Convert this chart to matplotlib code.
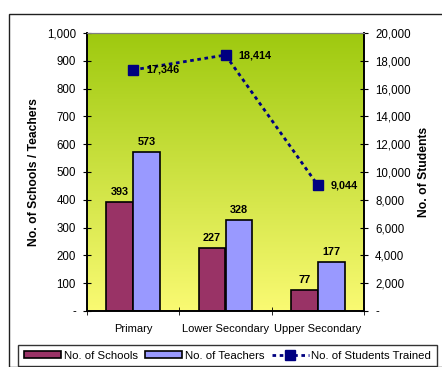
import numpy as np
import matplotlib
matplotlib.use("Agg")
import matplotlib.pyplot as plt
from matplotlib.patches import Rectangle
from matplotlib.ticker import FuncFormatter

categories = ["Primary", "Lower Secondary", "Upper Secondary"]
schools = [393, 227, 77]
teachers = [573, 328, 177]
students = [17346, 18414, 9044]

plt.rcParams['font.family'] = ['Liberation Sans', 'DejaVu Sans']

fig = plt.figure(figsize=(4.42, 3.67), dpi=100)
# outer frame
fig.patches.append(Rectangle((9/442, 0), 1.0, 1 - 14/367, transform=fig.transFigure,
                             fill=False, edgecolor='#202020', linewidth=1.0))

ax = fig.add_axes([87/442, 1 - 311/367, 277/442, 278/367])
ax2 = ax.twinx()

# gradient background
top = np.array([0.62, 0.79, 0.06])
bot = np.array([0.98, 0.98, 0.45])
t = np.linspace(0, 1, 256)[:, None]
grad = (top[None, :] * (1 - t) + bot[None, :] * t)[:, None, :]
ax.imshow(grad, extent=[0, 1, 0, 1], transform=ax.transAxes, aspect='auto', zorder=0)

x = np.arange(len(categories))
w = 0.29
b1 = ax.bar(x - w/2, schools, w, color='#993366', edgecolor='black', linewidth=1.2, zorder=2,
            label='No. of Schools')
b2 = ax.bar(x + w/2, teachers, w, color='#9999ff', edgecolor='black', linewidth=1.2, zorder=2,
            label='No. of Teachers')
for xi, v in zip(x, schools):
    ax.text(xi - w/2, v + 18, str(v), ha='center', va='bottom', fontsize=7.8, fontweight='bold')
for xi, v in zip(x, teachers):
    ax.text(xi + w/2, v + 18, str(v), ha='center', va='bottom', fontsize=7.8, fontweight='bold')

ax.set_xlim(-0.5, 2.5)
ax.set_ylim(0, 1000)
ax.set_yticks(np.arange(0, 1001, 100))
fmt = FuncFormatter(lambda v, p: '-' if v == 0 else f'{int(v):,}')
ax.yaxis.set_major_formatter(fmt)
ax.set_xticks(x)
ax.set_xticklabels(categories)
ax.set_xticks([-0.5, 0.5, 1.5, 2.5], minor=True)
ax.tick_params(axis='x', which='major', length=0, pad=9, labelsize=8)
ax.tick_params(axis='x', which='minor', direction='inout', length=6)
ax.tick_params(axis='y', direction='inout', length=6, labelsize=8.3, pad=5)
ax.set_ylabel('No. of Schools / Teachers', fontsize=8.7, fontweight='bold', labelpad=5)

ln, = ax2.plot(x, students, color='#000080', linestyle=(0, (1.3, 1.3)), linewidth=2,
               marker='s', markersize=7.5, label='No. of Students Trained', zorder=3)
for xi, v in zip(x, students):
    ax2.text(xi + 0.14, v, f'{v:,}', ha='left', va='center', fontsize=7.8, fontweight='bold')
ax2.set_ylim(0, 20000)
ax2.set_yticks(np.arange(0, 20001, 2000))
ax2.yaxis.set_major_formatter(fmt)
ax2.tick_params(axis='y', direction='inout', length=6, labelsize=8.3, pad=5)
ax2.set_ylabel('No. of Students', fontsize=8.7, fontweight='bold', labelpad=5)

for a in (ax, ax2):
    a.spines['top'].set_color('#808080')
    a.spines['left'].set_linewidth(1.2)
    a.spines['right'].set_linewidth(1.2)
    a.spines['bottom'].set_linewidth(1.2)

leg = fig.legend(handles=[b1, b2, ln], loc='upper left',
                 bbox_to_anchor=(18/442, 0, 419/442, 22/367),
                 mode='expand', ncol=3, fontsize=8.2, frameon=True, fancybox=False,
                 edgecolor='black', handlelength=3.3, handleheight=0.6, handletextpad=0.2,
                 columnspacing=0.3, borderpad=0.5, borderaxespad=0)
leg.get_frame().set_linewidth(1.0)

fig.savefig('out.png', dpi=100)
